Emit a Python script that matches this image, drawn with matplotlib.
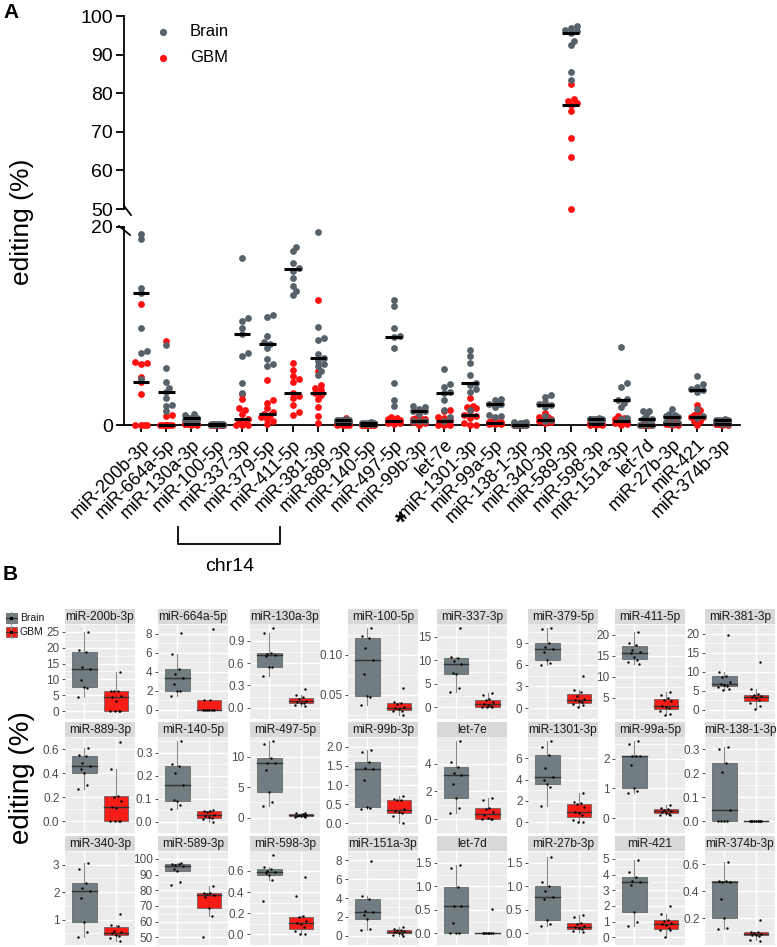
import numpy as np
import matplotlib
matplotlib.use("Agg")
import matplotlib.pyplot as plt
from matplotlib.lines import Line2D
from matplotlib.patches import Rectangle

W, H = 777, 947
plt.rcParams['font.family'] = ['Liberation Sans', 'DejaVu Sans']

# ---------------- data ----------------
mirnas = ["miR-200b-3p", "miR-664a-5p", "miR-130a-3p", "miR-100-5p", "miR-337-3p",
          "miR-379-5p", "miR-411-5p", "miR-381-3p", "miR-889-3p", "miR-140-5p",
          "miR-497-5p", "miR-99b-3p", "let-7e", "miR-1301-3p", "miR-99a-5p",
          "miR-138-1-3p", "miR-340-3p", "miR-589-3p", "miR-598-3p", "miR-151a-3p",
          "let-7d", "miR-27b-3p", "miR-421", "miR-374b-3p"]

brain = [
    [25, 19.3, 18.8, 13.8, 13.3, 9.8, 7.5, 7.3, 4.6],
    [8.1, 5.8, 4.3, 3.7, 3.3, 2.7, 2.0, 1.9, 1.4],
    [1.07, 1.0, 0.74, 0.72, 0.71, 0.70, 0.55, 0.54, 0.43],
    [0.133, 0.123, 0.121, 0.109, 0.094, 0.076, 0.048, 0.047, 0.037],
    [16.9, 10.8, 10.5, 9.8, 9.2, 7.3, 7.0, 4.2, 3.2],
    [11.1, 10.9, 9.0, 8.4, 8.2, 7.8, 6.7, 6.2, 6.0],
    [20.6, 18.0, 17.6, 16.4, 15.9, 15.6, 14.8, 14.0, 13.5, 13.1],
    [19.5, 9.9, 8.8, 8.6, 7.2, 6.8, 6.5, 6.2, 6.0, 5.5, 5.1],
    [0.61, 0.55, 0.54, 0.48, 0.46, 0.43, 0.40, 0.30, 0.27],
    [0.35, 0.25, 0.24, 0.21, 0.16, 0.095, 0.09, 0.073, 0.056],
    [12.6, 12.0, 9.8, 9.0, 8.9, 7.8, 4.2, 2.5, 1.9],
    [1.92, 1.85, 1.61, 1.45, 1.42, 1.13, 0.42, 0.39, 0.37],
    [5.65, 4.1, 3.8, 3.35, 3.2, 2.55, 1.55, 0.8, 0.45],
    [7.6, 7.0, 6.3, 5.1, 4.2, 4.0, 3.6, 3.3, 1.5],
    [2.6, 2.5, 2.1, 2.1, 2.1, 1.8, 1.0, 0.9, 0.85],
    [0.31, 0.30, 0.24, 0.205, 0.047, 0.0, 0.0, 0.0, 0.0],
    [3.05, 2.85, 2.35, 2.15, 2.05, 1.8, 0.9, 0.55, 0.38],
    [97.5, 96.8, 96.5, 96.0, 95.6, 93.5, 92.5, 85.5, 83.5],
    [0.75, 0.64, 0.62, 0.60, 0.59, 0.58, 0.56, 0.51, 0.32],
    [7.9, 4.2, 3.85, 2.6, 2.5, 2.2, 1.8, 0.75, 0.6],
    [1.45, 1.38, 0.98, 0.58, 0.58, 0.22, 0.0, 0.0, 0.0],
    [1.62, 1.1, 1.0, 0.9, 0.78, 0.72, 0.29, 0.2, 0.15],
    [4.95, 4.15, 3.85, 3.6, 3.55, 3.35, 1.6, 0.95, 0.7],
    [0.62, 0.48, 0.48, 0.47, 0.47, 0.34, 0.2, 0.13, 0.12],
]

gbm = [
    [12.2, 6.4, 6.3, 6.2, 4.8, 4.3, 3.1, 0, 0, 0, 0],
    [8.5, 1.0, 0.95, 0, 0, 0, 0, 0, 0],
    [0.25, 0.17, 0.14, 0.12, 0.09, 0.08, 0.07, 0.06, 0.04, 0.02],
    [0.058, 0.041, 0.040, 0.038, 0.034, 0.033, 0.032, 0.030, 0.029, 0.025],
    [3.1, 2.6, 1.7, 1.5, 1.1, 0.65, 0.4, 0.2, 0, 0, 0],
    [4.5, 2.5, 2.2, 1.7, 1.3, 1.1, 1.0, 0.8, 0.6, 0.4, 0.1],
    [6.3, 5.6, 4.9, 4.6, 4.3, 3.2, 2.9, 2.7, 2.0, 1.3, 1.0],
    [12.6, 5.5, 4.0, 3.7, 3.5, 3.2, 3.0, 2.6, 1.8, 0.9, 0.2],
    [0.66, 0.43, 0.21, 0.20, 0.17, 0.12, 0.11, 0, 0, 0, 0],
    [0.05, 0.047, 0.045, 0.04, 0.03, 0.025, 0.02, 0.015, 0.01, 0.0],
    [0.8, 0.7, 0.65, 0.5, 0.4, 0.35, 0.3, 0.25, 0.2, 0.1],
    [0.72, 0.64, 0.62, 0.6, 0.38, 0.33, 0.3, 0.27, 0.2, 0.0],
    [1.5, 1.4, 0.8, 0.75, 0.5, 0.3, 0.1, 0, 0, 0],
    [2.7, 1.9, 1.8, 1.7, 1.4, 1.0, 0.9, 0.7, 0.2, 0.0, 0.0],
    [0.45, 0.35, 0.3, 0.28, 0.25, 0.2, 0.18, 0.15, 0.12, 0.1],
    [0.002, 0.001, 0, 0, 0, 0, 0, 0, 0],
    [1.2, 0.8, 0.78, 0.6, 0.55, 0.5, 0.45, 0.42, 0.33, 0.22],
    [82.5, 78.5, 78.0, 77.5, 77.0, 75.5, 68.5, 63.5, 50.0],
    [0.54, 0.36, 0.17, 0.16, 0.13, 0.11, 0.10, 0.07, 0.03, 0.0, 0.0],
    [0.95, 0.75, 0.6, 0.55, 0.45, 0.35, 0.3, 0.2, 0.1, 0.0],
    [0.52, 0, 0, 0, 0, 0, 0, 0],
    [0.39, 0.35, 0.22, 0.2, 0.15, 0.13, 0.11, 0.08, 0.05, 0.02],
    [2.0, 1.5, 1.1, 1.05, 0.9, 0.85, 0.8, 0.6, 0.45, 0.45, 0.0],
    [0.19, 0.1, 0.095, 0.09, 0.08, 0.078, 0.075, 0.07, 0.04, 0.03],
]

# y tick labels of each small panel in B
b_ticklabels = [
    ['0', '5', '10', '15', '20', '25'], ['0', '2', '4', '6', '8'], ['0.0', '0.3', '0.6', '0.9'],
    ['0.05', '0.10'], ['0', '5', '10', '15'], ['0', '3', '6', '9'], ['5', '10', '15', '20'],
    ['0', '5', '10', '15', '20'],
    ['0.0', '0.2', '0.4', '0.6'], ['0.0', '0.1', '0.2', '0.3'], ['0', '5', '10'],
    ['0.0', '0.5', '1.0', '1.5', '2.0'], ['0', '2', '4'], ['0', '2', '4', '6'], ['0', '1', '2'],
    ['0.0', '0.1', '0.2', '0.3'],
    ['1', '2', '3'], ['50', '60', '70', '80', '90', '100'], ['0.0', '0.2', '0.4', '0.6'],
    ['0', '2', '4', '6', '8'], ['0.0', '0.5', '1.0', '1.5'], ['0.0', '0.5', '1.0', '1.5'],
    ['0', '1', '2', '3', '4', '5'], ['0.2', '0.4', '0.6'],
]
a_upper_ticks = [50, 60, 70, 80, 90, 100]
a_lower_ticks = [0, 20]
groups = ["Brain", "GBM"]

# ---------------- styling ----------------
BRAIN_DOT = "#56616a"
GBM_DOT = "#ff1010"
BRAIN_BOX = "#717d81"
GBM_BOX = "#f71d17"

fig = plt.figure(figsize=(W / 100, H / 100), dpi=100)


def add_ax(x0, y0, x1, y1):
    return fig.add_axes([x0 / W, 1 - y1 / H, (x1 - x0) / W, (y1 - y0) / H])


def fx(x):
    return x / W


def fy(y):
    return 1 - y / H


def swarm(vals, ppu_y, ppu_x, diam=6.0, maxw=8.0):
    """bounded beeswarm layout: horizontal offsets (data units) for a column of dots"""
    vals = np.asarray(vals, float)
    order = np.argsort(vals)
    placed = []
    offs = np.zeros(len(vals))
    step = diam * 0.5
    cands = [0.0]
    k = 1
    while k * step <= maxw + 1e-9:
        cands += [k * step, -k * step]
        k += 1
    for idx in order:
        y = vals[idx] * ppu_y
        best, bestd = 0.0, -1.0
        for c in cands:
            d = min([np.hypot(c - px, y - py) for px, py in placed], default=1e9)
            if d >= diam * 0.8:
                best = c
                break
            if d > bestd:
                bestd, best = d, c
        placed.append((best, y))
        offs[idx] = best / ppu_x
    return offs


# ================= Panel A =================
XL = (-0.67, 23.7)
axT = add_ax(124, 16, 740, 209)
axL = add_ax(124, 227, 740, 425)
ppx = (740 - 124) / (XL[1] - XL[0])
for ax in (axT, axL):
    ax.set_xlim(*XL)
    ax.patch.set_alpha(0)
    for s in ('top', 'right'):
        ax.spines[s].set_visible(False)
    ax.spines['left'].set_linewidth(1.3)
    ax.tick_params(axis='y', direction='out', length=6, width=1.3, labelsize=14, pad=2)
axT.set_ylim(50, 100)
axT.spines['bottom'].set_visible(False)
axT.set_xticks([])
axT.set_yticks(a_upper_ticks)
axL.set_ylim(0, 20)
axL.set_yticks(a_lower_ticks)
axL.spines['bottom'].set_linewidth(1.3)
axL.set_xticks(range(len(mirnas)))
axL.set_xticklabels(mirnas, rotation=45, ha='right', va='top', rotation_mode='anchor', fontsize=13)
axL.tick_params(axis='x', direction='out', length=5, width=1.3, pad=3)

ppu_lo = (425 - 227) / 20.0
ppu_hi = (209 - 16) / 50.0
for i in range(len(mirnas)):
    # GBM first, Brain drawn on top
    for vals, col, z in ((gbm[i], GBM_DOT, 3), (brain[i], BRAIN_DOT, 4)):
        lo = [v for v in vals if v <= 20]
        hi = [v for v in vals if v >= 50]
        if lo:
            o = swarm(lo, ppu_lo, ppx)
            axL.scatter(i + o, lo, s=24, color=col, linewidths=0, clip_on=False, zorder=z)
        if hi:
            o = swarm(hi, ppu_hi, ppx)
            axT.scatter(i + o, hi, s=24, color=col, linewidths=0, clip_on=False, zorder=z)
        med = float(np.median(vals))
        tgt = axT if med >= 50 else axL
        tgt.plot([i - 0.33, i + 0.33], [med, med], color='black', lw=2.2,
                 solid_capstyle='butt', zorder=6, clip_on=False)

# axis break marks
for (xa, ya, xb, yb) in ((124, 206, 131, 215), (119, 226, 130, 235)):
    fig.add_artist(Line2D([fx(xa), fx(xb)], [fy(ya), fy(yb)], transform=fig.transFigure,
                          color='black', lw=1.3))

# legend A
for yy, col, lab in ((32, BRAIN_DOT, groups[0]), (58, GBM_DOT, groups[1])):
    fig.add_artist(Line2D([fx(163)], [fy(yy)], transform=fig.transFigure, marker='o',
                          ms=5.2, color=col, mec='none', ls='none'))
    fig.text(fx(190), fy(yy), lab, fontsize=12, va='center', ha='left')

fig.text(fx(22), fy(222), "editing (%)", rotation=90, fontsize=19, ha='center', va='center')
fig.text(fx(3), fy(13), "A", fontsize=15, fontweight='bold', ha='left', va='center')

# asterisk and chr14 bracket
fig.text(fx(400), fy(524), "*", fontsize=20, ha='center', va='center', fontweight='bold')
fig.add_artist(Line2D([fx(178), fx(178), fx(280), fx(280)], [fy(527), fy(544), fy(544), fy(527)],
                      transform=fig.transFigure, color='black', lw=1.3))
fig.text(fx(230), fy(566), "chr14", fontsize=14, ha='center', va='center')

# ================= Panel B =================
fig.text(fx(3), fy(575), "B", fontsize=15, fontweight='bold', ha='left', va='center')
fig.text(fx(22), fy(778), "editing (%)", rotation=90, fontsize=20, ha='center', va='center')

cols = [65, 158, 250, 348, 437, 528, 615, 705]
rows = [(609, 624, 719), (722, 737, 833), (836, 851, 945)]
PW = 70
JIT = [0.12, -0.15, 0.05, -0.07, 0.17, -0.11, 0.0, 0.09, -0.18, 0.14, -0.03]


def box_stats(v):
    v = np.sort(np.asarray(v, float))
    q1, med, q3 = np.percentile(v, [25, 50, 75])
    iqr = q3 - q1
    lo = v[v >= q1 - 1.5 * iqr].min()
    hi = v[v <= q3 + 1.5 * iqr].max()
    return q1, med, q3, lo, hi


for k, name in enumerate(mirnas):
    r, c = divmod(k, 8)
    st, pt, pb = rows[r]
    x0 = cols[c]
    ax = add_ax(x0, pt, x0 + PW, pb)
    sax = add_ax(x0, st, x0 + PW, pt)
    sax.set_facecolor('#d9d9d9')
    sax.set_xticks([]); sax.set_yticks([])
    for s in sax.spines.values():
        s.set_visible(False)
    sax.text(0.5, 0.47, name, transform=sax.transAxes, ha='center', va='center',
             fontsize=8.6, color='#1a1a1a')

    ax.set_facecolor('#ebebeb')
    for s in ax.spines.values():
        s.set_visible(False)
    allv = list(brain[k]) + list(gbm[k])
    lo, hi = min(allv), max(allv)
    pad = 0.05 * (hi - lo)
    ax.set_ylim(lo - pad, hi + pad)
    ax.set_xlim(0.4, 2.6)
    labs = b_ticklabels[k]
    tv = [float(t) for t in labs]
    ax.set_yticks(tv)
    ax.set_yticklabels(labs)
    stp = tv[1] - tv[0]
    minors = [t + stp / 2 for t in [tv[0] - stp] + tv]
    ax.set_yticks(minors, minor=True)
    ax.set_xticks([1, 2])
    ax.set_xticklabels([])
    ax.set_axisbelow(True)
    ax.grid(which='major', color='white', lw=1.0)
    ax.grid(which='minor', axis='y', color='white', lw=0.5)
    ax.tick_params(axis='x', length=0)
    ax.tick_params(axis='y', which='major', length=2.5, width=0.6, color='#333333',
                   labelcolor='#4d4d4d', labelsize=8.5, pad=1.5)
    ax.tick_params(axis='y', which='minor', length=0)

    for xpos, vals, fc in ((1, brain[k], BRAIN_BOX), (2, gbm[k], GBM_BOX)):
        q1, med, q3, wlo, whi = box_stats(vals)
        ax.plot([xpos, xpos], [q3, whi], color='#8c8c8c', lw=0.8, zorder=2)
        ax.plot([xpos, xpos], [wlo, q1], color='#8c8c8c', lw=0.8, zorder=2)
        ax.add_patch(Rectangle((xpos - 0.39, q1), 0.78, q3 - q1, facecolor=fc,
                               edgecolor='#5a5a5a', lw=0.5, zorder=3))
        ax.plot([xpos - 0.39, xpos + 0.39], [med, med], color='#333333', lw=1.0, zorder=4)
        jx = [xpos + JIT[j % len(JIT)] for j in range(len(vals))]
        ax.scatter(jx, vals, s=3, color='black', linewidths=0, zorder=5, clip_on=False)

# legend B
for (yt, fc, lab) in ((613, BRAIN_BOX, groups[0]), (627, GBM_BOX, groups[1])):
    fig.add_artist(Line2D([fx(11), fx(11)], [fy(yt - 1), fy(yt + 11)], transform=fig.transFigure,
                          color='#8c8c8c', lw=0.8))
    fig.add_artist(Rectangle((fx(5.5), fy(yt + 10)), 11 / W, 10 / H, transform=fig.transFigure,
                             facecolor=fc, edgecolor='#5a5a5a', lw=0.5))
    fig.add_artist(Line2D([fx(5.5), fx(16.5)], [fy(yt + 5), fy(yt + 5)], transform=fig.transFigure,
                          color='#333333', lw=0.8))
    fig.add_artist(Line2D([fx(11)], [fy(yt + 5)], transform=fig.transFigure, marker='o',
                          ms=1.6, color='black', ls='none'))
    fig.text(fx(20), fy(yt + 5), lab, fontsize=7.5, va='center', ha='left', color='#1a1a1a')

fig.savefig("out.png", dpi=100)
